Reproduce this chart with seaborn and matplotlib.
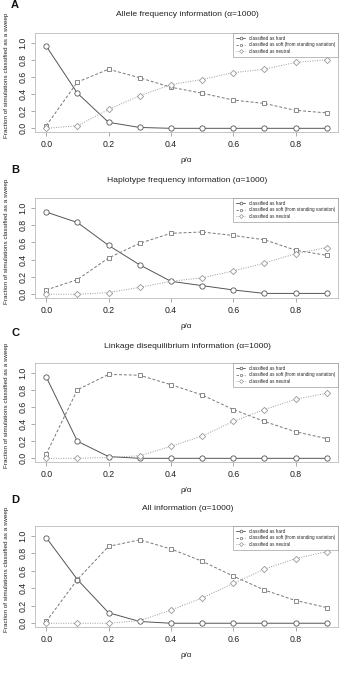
import matplotlib
matplotlib.use('Agg')
import matplotlib.pyplot as plt
import seaborn as sns
from matplotlib.lines import Line2D

sns.set_style('white')
plt.rcParams['font.family'] = ['Liberation Sans', 'DejaVu Sans']

# 数据
rho_alpha = [0.0, 0.1, 0.2, 0.3, 0.4, 0.5, 0.6, 0.7, 0.8, 0.9]

titles = ['Allele frequency information (\u03b1=1000)',
          'Haplotype frequency information (\u03b1=1000)',
          'Linkage disequilibrium information (\u03b1=1000)',
          'All information (\u03b1=1000)']
panel_letters = ['A', 'B', 'C', 'D']

hard_a = [0.96, 0.41, 0.07, 0.01, 0.0, 0.0, 0.0, 0.0, 0.0, 0.0]
soft_a = [0.03, 0.54, 0.69, 0.59, 0.48, 0.41, 0.33, 0.29, 0.21, 0.18]
neutral_a = [0.0, 0.03, 0.22, 0.38, 0.51, 0.57, 0.65, 0.69, 0.77, 0.80]

hard_b = [0.95, 0.83, 0.565, 0.34, 0.15, 0.10, 0.05, 0.01, 0.01, 0.01]
soft_b = [0.05, 0.17, 0.42, 0.59, 0.705, 0.72, 0.68, 0.63, 0.51, 0.45]
neutral_b = [0.0, 0.0, 0.02, 0.08, 0.15, 0.19, 0.27, 0.36, 0.47, 0.54]

hard_c = [0.95, 0.20, 0.02, 0.0, 0.0, 0.0, 0.0, 0.0, 0.0, 0.0]
soft_c = [0.05, 0.80, 0.98, 0.97, 0.86, 0.74, 0.57, 0.43, 0.31, 0.23]
neutral_c = [0.0, 0.0, 0.01, 0.03, 0.14, 0.26, 0.43, 0.57, 0.69, 0.76]

hard_d = [0.98, 0.50, 0.12, 0.02, 0.0, 0.0, 0.0, 0.0, 0.0, 0.0]
soft_d = [0.02, 0.50, 0.88, 0.955, 0.85, 0.71, 0.54, 0.38, 0.26, 0.18]
neutral_d = [0.0, 0.0, 0.0, 0.03, 0.15, 0.29, 0.455, 0.62, 0.74, 0.82]

hard_all = [hard_a, hard_b, hard_c, hard_d]
soft_all = [soft_a, soft_b, soft_c, soft_d]
neutral_all = [neutral_a, neutral_b, neutral_c, neutral_d]

series_labels = ['classified as hard',
                 'classified as soft (from standing variation)',
                 'classified as neutral']
series_colors = ['#555555', '#777777', '#999999']
series_styles = ['-', (0, (3, 2)), (0, (1, 1.5))]
series_markers = ['o', 's', 'D']
series_msize = [3.8, 3.5, 3.2]

W, H = 342, 698
fig = plt.figure(figsize=(W / 100, H / 100), dpi=100)

# 像素位置 (top, bottom)
axes_px = [(33, 132), (198, 298), (363, 462), (526, 627)]
title_px = [15, 180, 346, 509]
letter_px = [5, 170, 333, 500]
left_px, right_px = 35, 338

for i in range(4):
    top, bot = axes_px[i]
    ax = fig.add_axes([left_px / W, 1 - bot / H, (right_px - left_px) / W, (bot - top) / H])
    data = [hard_all[i], soft_all[i], neutral_all[i]]
    for j in range(3):
        sns.lineplot(x=rho_alpha, y=data[j], ax=ax, color=series_colors[j],
                     linestyle=series_styles[j], linewidth=0.7,
                     marker=series_markers[j], markersize=series_msize[j],
                     markerfacecolor='white', markeredgecolor=series_colors[j],
                     markeredgewidth=0.6, legend=False)
    ax.set_xlim(-0.036, 0.936)
    ax.set_ylim(-0.043, 1.113)
    ax.set_xticks([0.0, 0.2, 0.4, 0.6, 0.8])
    ax.set_xticklabels(['0.0', '0.2', '0.4', '0.6', '0.8'])
    ax.set_yticks([0.0, 0.2, 0.4, 0.6, 0.8, 1.0])
    ax.set_yticklabels(['0.0', '0.2', '0.4', '0.6', '0.8', '1.0'], rotation=90, va='center')
    ax.tick_params(axis='both', labelsize=6.3, length=3, width=0.5, color='#888888',
                   labelcolor='#222222', direction='out', left=True, bottom=True, pad=2.5)
    for s in ax.spines.values():
        s.set_color('#bbbbbb')
        s.set_linewidth(0.6)
    ax.set_xlabel('\u03c1/\u03b1', fontsize=5.8, color='#222222', labelpad=6)
    ax.set_ylabel('Fraction of simulations classified as a sweep', fontsize=4.6,
                  color='#222222')
    ax.yaxis.set_label_coords(-26 / (right_px - left_px), 0.57)

    handles = [Line2D([0], [0], color=series_colors[j], linestyle=series_styles[j],
                      linewidth=0.6, marker=series_markers[j], markersize=2,
                      markerfacecolor='white', markeredgewidth=0.5)
               for j in range(3)]
    leg = ax.legend(handles, series_labels, loc='upper right', fontsize=3.3,
                    frameon=True, fancybox=False, handlelength=2.0, handletextpad=0.8,
                    borderpad=0.6, labelspacing=0.35, borderaxespad=0)
    leg.get_frame().set_edgecolor('#888888')
    leg.get_frame().set_linewidth(0.5)

    fig.text(0.548, 1 - title_px[i] / H, titles[i], ha='center', va='center',
             fontsize=6.1, color='#222222')
    fig.text(15 / W, 1 - letter_px[i] / H, panel_letters[i], ha='center', va='center',
             fontsize=8, fontweight='bold', color='#111111')

plt.savefig('out.png', dpi=100)
